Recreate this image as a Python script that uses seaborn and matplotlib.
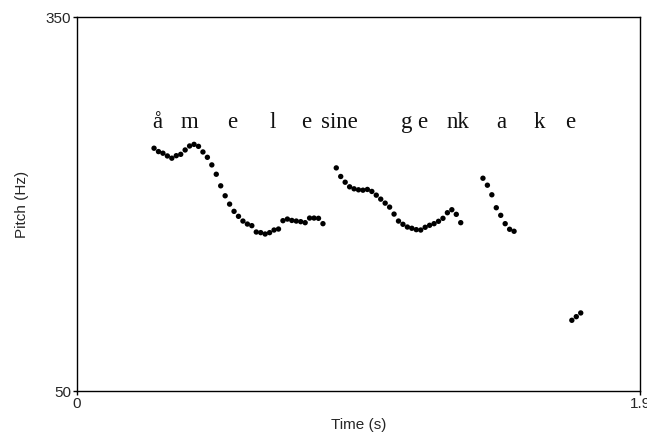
import pandas as pd
import seaborn as sns
import matplotlib.pyplot as plt

# pitch track (time in s, pitch in Hz)
t_seg1 = [0.260, 0.275, 0.290, 0.305, 0.320, 0.335, 0.350, 0.365, 0.380, 0.395,
          0.410, 0.425, 0.440, 0.455, 0.470, 0.485, 0.500, 0.515, 0.530, 0.545,
          0.560, 0.575, 0.590, 0.605, 0.620, 0.635, 0.650, 0.665, 0.680, 0.695,
          0.710, 0.725, 0.740, 0.755, 0.770, 0.785, 0.800, 0.815, 0.830]
f_seg1 = [245.0, 242.3, 241.0, 238.8, 237.0, 239.0, 240.1, 243.6, 246.8, 248.1,
          246.5, 242.0, 237.7, 231.6, 224.1, 214.8, 206.8, 200.1, 194.3, 190.3,
          186.5, 184.1, 182.8, 177.7, 177.2, 176.1, 177.2, 179.3, 180.1, 186.8,
          188.1, 187.0, 186.5, 186.0, 185.2, 188.9, 188.9, 188.7, 184.4]

t_seg2 = [0.875, 0.890, 0.905, 0.920, 0.935, 0.950, 0.965, 0.980, 0.995, 1.010,
          1.025, 1.040, 1.055, 1.070, 1.085, 1.100, 1.115, 1.130, 1.145, 1.160,
          1.175, 1.190, 1.205, 1.220, 1.235, 1.250, 1.265, 1.280, 1.295]
f_seg2 = [229.2, 222.3, 217.7, 214.0, 212.4, 211.6, 211.3, 211.9, 210.3, 207.3,
          204.1, 200.9, 197.7, 192.1, 186.5, 183.9, 181.7, 180.7, 179.6, 179.3,
          181.5, 183.1, 184.4, 186.3, 188.7, 193.2, 195.6, 191.9, 185.2]

t_seg3 = [1.370, 1.385, 1.400, 1.415, 1.430, 1.445, 1.460, 1.475]
f_seg3 = [220.9, 215.3, 207.6, 197.2, 191.1, 184.4, 179.9, 178.3]

t_seg4 = [1.670, 1.685, 1.700]
f_seg4 = [106.8, 109.7, 112.7]

# segment labels and their times
labels = ["å", "m", "e", "l", "e", "sine", "g", "e", "nk", "a", "k", "e"]
label_t = [0.270, 0.380, 0.523, 0.660, 0.772, 0.884, 1.113, 1.165, 1.287, 1.433, 1.559, 1.666]
label_f = 261

df = pd.DataFrame({
    "time": t_seg1 + t_seg2 + t_seg3 + t_seg4,
    "pitch": f_seg1 + f_seg2 + f_seg3 + f_seg4,
})

sns.set_style("white")
plt.rcParams['font.family'] = ['Liberation Sans', 'DejaVu Sans']

fig = plt.figure(figsize=(6.47, 4.36), dpi=100)
ax = fig.add_axes([77 / 647, 1 - 391 / 436, 563 / 647, 373.5 / 436])

sns.scatterplot(data=df, x="time", y="pitch", color="black", s=15,
                edgecolor="none", ax=ax, clip_on=False)

for lab, t in zip(labels, label_t):
    ax.text(t, label_f, lab, ha="center", va="baseline", fontsize=16.5,
            family=["Liberation Serif", "DejaVu Serif"], color="#111111")

ax.set_xlim(0, 1.9)
ax.set_ylim(50, 350)
ax.set_xticks([0, 1.9])
ax.set_xticklabels(["0", "1.9"])
ax.set_yticks([50, 350])
ax.set_yticklabels(["50", "350"])
ax.tick_params(bottom=True, left=True, direction="out", length=3, width=1,
               color="black", labelsize=11, pad=1)
for sp in ax.spines.values():
    sp.set_visible(True)
    sp.set_color("black")
    sp.set_linewidth(1)

ax.set_xlabel("Time (s)", fontsize=11, labelpad=5)
ax.set_ylabel("Pitch (Hz)", fontsize=11, labelpad=12)

plt.savefig("out.png", dpi=100)
plt.close("all")
